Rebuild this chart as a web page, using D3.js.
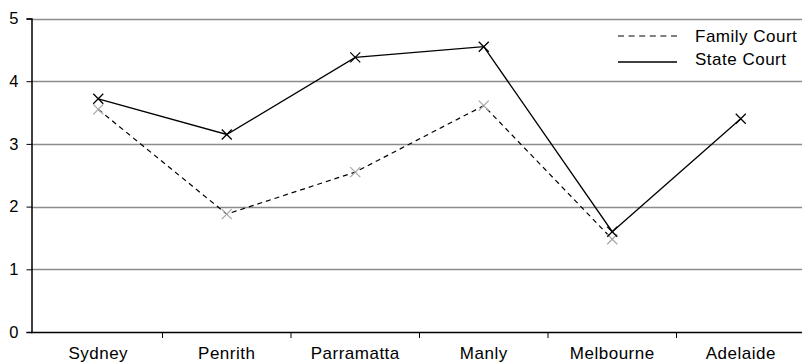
<!DOCTYPE html>
<html><head><meta charset="utf-8">
<script src="https://cdn.jsdelivr.net/npm/d3@7"></script>
<style>body{margin:0;background:#fff;} text{font-family:"Liberation Sans",Arial,sans-serif;}</style>
</head><body><svg id="c" width="802" height="362"></svg>
<script>
const categories = ["Sydney","Penrith","Parramatta","Manly","Melbourne","Adelaide"];
const familyCourt = [3.55, 1.88, 2.55, 3.61, 1.48, null];
const stateCourt = [3.72, 3.15, 4.38, 4.55, 1.60, 3.40];
const yTicks = [0,1,2,3,4,5];
const seriesNames = ["Family Court","State Court"];

const svg = d3.select("#c");
const x = d3.scaleBand().domain(categories).range([34,805]);
const y = d3.scaleLinear().domain([0,5]).range([332,18.5]);
const fs = 17, ls = "0.5px";

// gridlines
svg.append("g").selectAll("line").data(yTicks.filter(d=>d>0)).join("line")
  .attr("x1",31).attr("x2",802).attr("y1",d=>Math.round(y(d))+0.5).attr("y2",d=>Math.round(y(d))+0.5)
  .attr("stroke","#8c8c8c").attr("stroke-width",1.5);

// y axis
const ya = svg.append("g").attr("transform","translate(31.5,0)")
  .call(d3.axisLeft(y).tickValues(yTicks).tickSize(5).tickPadding(8).tickFormat(d3.format("d")));
ya.select(".domain").attr("stroke","#000").attr("stroke-width",1.5);
ya.selectAll(".tick line").attr("stroke","#000");
ya.selectAll("text").attr("font-size",16.5).attr("fill","#000").attr("font-family","Liberation Sans, Arial, sans-serif");

// x axis
const xa = svg.append("g").attr("transform","translate(0,332.5)")
  .call(d3.axisBottom(x).tickSize(0).tickPadding(14.3));
xa.select(".domain").remove();
xa.selectAll("text").attr("font-size",fs).attr("fill","#000").attr("font-family","Liberation Sans, Arial, sans-serif")
  .style("letter-spacing",ls);
svg.append("line").attr("x1",31).attr("x2",802).attr("y1",332.5).attr("y2",332.5).attr("stroke","#000").attr("stroke-width",1.5);
const bounds = categories.map(c=>x(c)).slice(1);
svg.append("g").selectAll("line").data(bounds).join("line")
  .attr("x1",d=>d).attr("x2",d=>d).attr("y1",332).attr("y2",338).attr("stroke","#000");

const cx = c => x(c)+x.bandwidth()/2;
const line = d3.line().defined(d=>d.v!=null).x(d=>cx(d.c)).y(d=>y(d.v));
const fam = categories.map((c,i)=>({c,v:familyCourt[i]}));
const st = categories.map((c,i)=>({c,v:stateCourt[i]}));

svg.append("path").datum(fam).attr("d",line).attr("fill","none").attr("stroke","#000").attr("stroke-width",1.2).attr("stroke-dasharray","5,4");
svg.append("path").datum(st).attr("d",line).attr("fill","none").attr("stroke","#000").attr("stroke-width",1.3);

function marks(data,color){
  svg.append("g").selectAll("path").data(data.filter(d=>d.v!=null)).join("path")
   .attr("d",d=>{const px=cx(d.c),py=y(d.v),r=5;return `M${px-r},${py-r}L${px+r},${py+r}M${px-r},${py+r}L${px+r},${py-r}`;})
   .attr("stroke",color).attr("stroke-width",1.3).attr("fill","none");
}
marks(fam,"#a8a8a8");
marks(st,"#000");

// legend
const leg = svg.append("g");
const lineY = [36,62];
const baseY = [41.9,64.5];
leg.append("line").attr("x1",618).attr("x2",677).attr("y1",lineY[0]).attr("y2",lineY[0]).attr("stroke","#555").attr("stroke-width",1.3).attr("stroke-dasharray","6,4.6");
leg.append("line").attr("x1",618).attr("x2",677).attr("y1",lineY[1]).attr("y2",lineY[1]).attr("stroke","#000").attr("stroke-width",1.3);
leg.selectAll("text").data(seriesNames).join("text").attr("x",695).attr("y",(d,i)=>baseY[i])
  .attr("font-size",fs).attr("fill","#000").style("letter-spacing",ls).text(d=>d);
</script></body></html>
